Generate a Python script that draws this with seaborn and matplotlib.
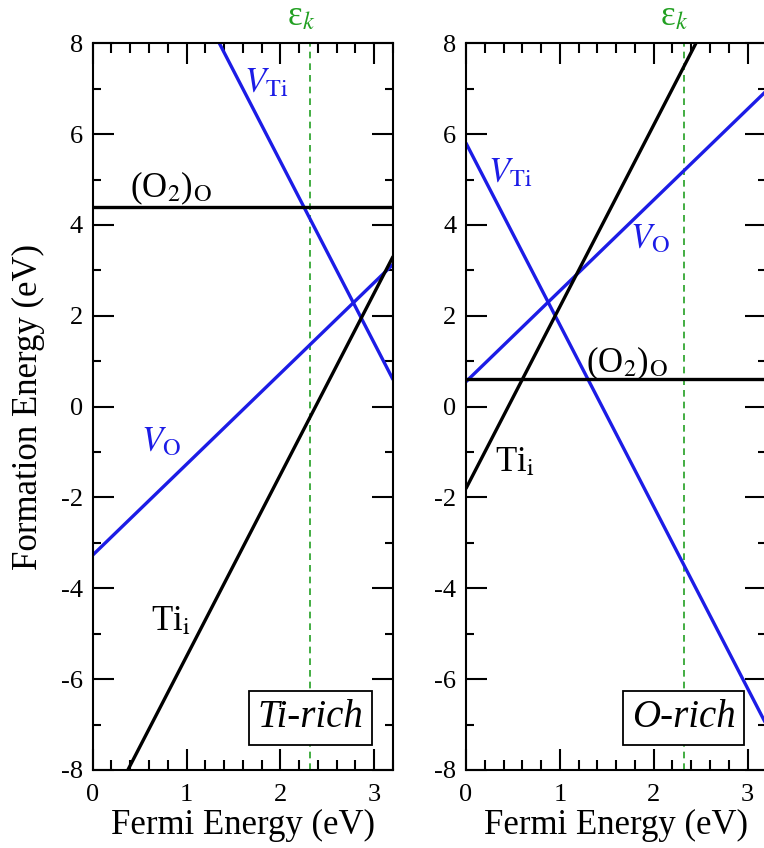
import numpy as np
import pandas as pd
import matplotlib
matplotlib.use("Agg")
import matplotlib.pyplot as plt
import seaborn as sns
from matplotlib.ticker import MultipleLocator

# Fermi energy end points (eV) for the straight formation-energy lines
fermi = [0.0, 3.2]

# Ti-rich formation energies at the end points (eV)
ti_rich_VO = [-3.27, 3.13]
ti_rich_VTi = [13.4, 0.6]
ti_rich_Tii = [-9.5, 3.3]
ti_rich_O2O = [4.4, 4.4]

# O-rich formation energies at the end points (eV)
o_rich_VO = [0.55, 6.95]
o_rich_VTi = [5.8, -7.0]
o_rich_Tii = [-1.8, 11.0]
o_rich_O2O = [0.6, 0.6]

eps_k = 2.32  # vertical dashed marker

defects = ["V_O", "V_Ti", "Ti_i", "O2_O"]
panel_names = ["Ti-rich", "O-rich"]

BLUE = "#1c1ce6"
BLACK = "black"
GREEN = "#22a022"
palette = {"V_O": BLUE, "V_Ti": BLUE, "Ti_i": BLACK, "O2_O": BLACK}


def make_frame(vo, vti, tii, o2o):
    rows = []
    for name, vals in zip(defects, [vo, vti, tii, o2o]):
        for e, v in zip(fermi, vals):
            rows.append({"fermi": e, "energy": v, "defect": name})
    return pd.DataFrame(rows)


frames = [
    make_frame(ti_rich_VO, ti_rich_VTi, ti_rich_Tii, ti_rich_O2O),
    make_frame(o_rich_VO, o_rich_VTi, o_rich_Tii, o_rich_O2O),
]

sns.set_theme(style="ticks")
plt.rcParams["font.family"] = ["Liberation Serif", "DejaVu Serif"]
plt.rcParams["mathtext.fontset"] = "stix"
plt.rcParams["axes.unicode_minus"] = False
plt.rcParams["text.color"] = "black"
plt.rcParams["axes.labelcolor"] = "black"
plt.rcParams["xtick.color"] = "black"
plt.rcParams["ytick.color"] = "black"

fig = plt.figure(figsize=(7.64, 8.48), dpi=100)
axes = [
    fig.add_axes([0.1213, 0.092, 0.393, 0.857]),
    fig.add_axes([0.610, 0.092, 0.393, 0.857]),
]

# label positions (data coords) per panel
labels = [
    {
        "V_Ti": (1.61, 6.93), "O2_O": (0.395, 4.6), "V_O": (0.52, -0.99), "Ti_i": (0.62, -4.92),
    },
    {
        "V_Ti": (0.23, 4.95), "O2_O": (1.28, 0.75), "V_O": (1.75, 3.48), "Ti_i": (0.31, -1.43),
    },
]
label_text = {
    "V_Ti": (r"$V_{\mathrm{Ti}}$", BLUE),
    "V_O": (r"$V_{\mathrm{O}}$", BLUE),
    "O2_O": (r"(O$_2$)$_{\mathrm{O}}$", BLACK),
    "Ti_i": (r"Ti$_{\mathrm{i}}$", BLACK),
}

for i, ax in enumerate(axes):
    df = frames[i]
    sns.lineplot(data=df, x="fermi", y="energy", hue="defect", palette=palette,
                 linewidth=2.4, legend=False, ax=ax)
    ax.axvline(eps_k, color=GREEN, linestyle=(0, (4, 3)), linewidth=1.2, zorder=1)

    ax.set_xlim(0, 3.2)
    ax.set_ylim(-8, 8)
    ax.xaxis.set_major_locator(MultipleLocator(1))
    ax.xaxis.set_minor_locator(MultipleLocator(0.2))
    ax.yaxis.set_major_locator(MultipleLocator(2))
    ax.yaxis.set_minor_locator(MultipleLocator(1))
    ax.tick_params(which="both", direction="in", top=True, right=True, width=1.5, color="black")
    ax.tick_params(axis="x", which="major", length=15, pad=10, labelsize=19)
    ax.tick_params(axis="x", which="minor", length=7)
    ax.tick_params(axis="y", which="major", length=15, pad=7, labelsize=19)
    ax.tick_params(axis="y", which="minor", length=5.5)
    for s in ax.spines.values():
        s.set_linewidth(1.5)
        s.set_color("black")

    ax.set_xlabel("Fermi Energy (eV)", fontsize=25, labelpad=2)
    if i == 0:
        ax.set_ylabel("Formation Energy (eV)", fontsize=25)
        ax.yaxis.set_label_coords(-0.16, 0.5)
    else:
        ax.set_ylabel("")

    for key, (x, y) in labels[i].items():
        txt, col = label_text[key]
        ax.text(x, y, txt, color=col, fontsize=25, ha="left", va="baseline")

    ax.text(eps_k - 0.1, 8.4, r"ε$_{\mathit{k}}$", color=GREEN, fontsize=25,
            ha="center", va="baseline", clip_on=False)

    ax.text(2.32, -6.85, panel_names[i], fontsize=28, style="italic", ha="center", va="center",
            zorder=5, bbox=dict(boxstyle="square,pad=0.22", fc="white", ec="black", lw=1.3))

fig.savefig("out.png", dpi=100)
